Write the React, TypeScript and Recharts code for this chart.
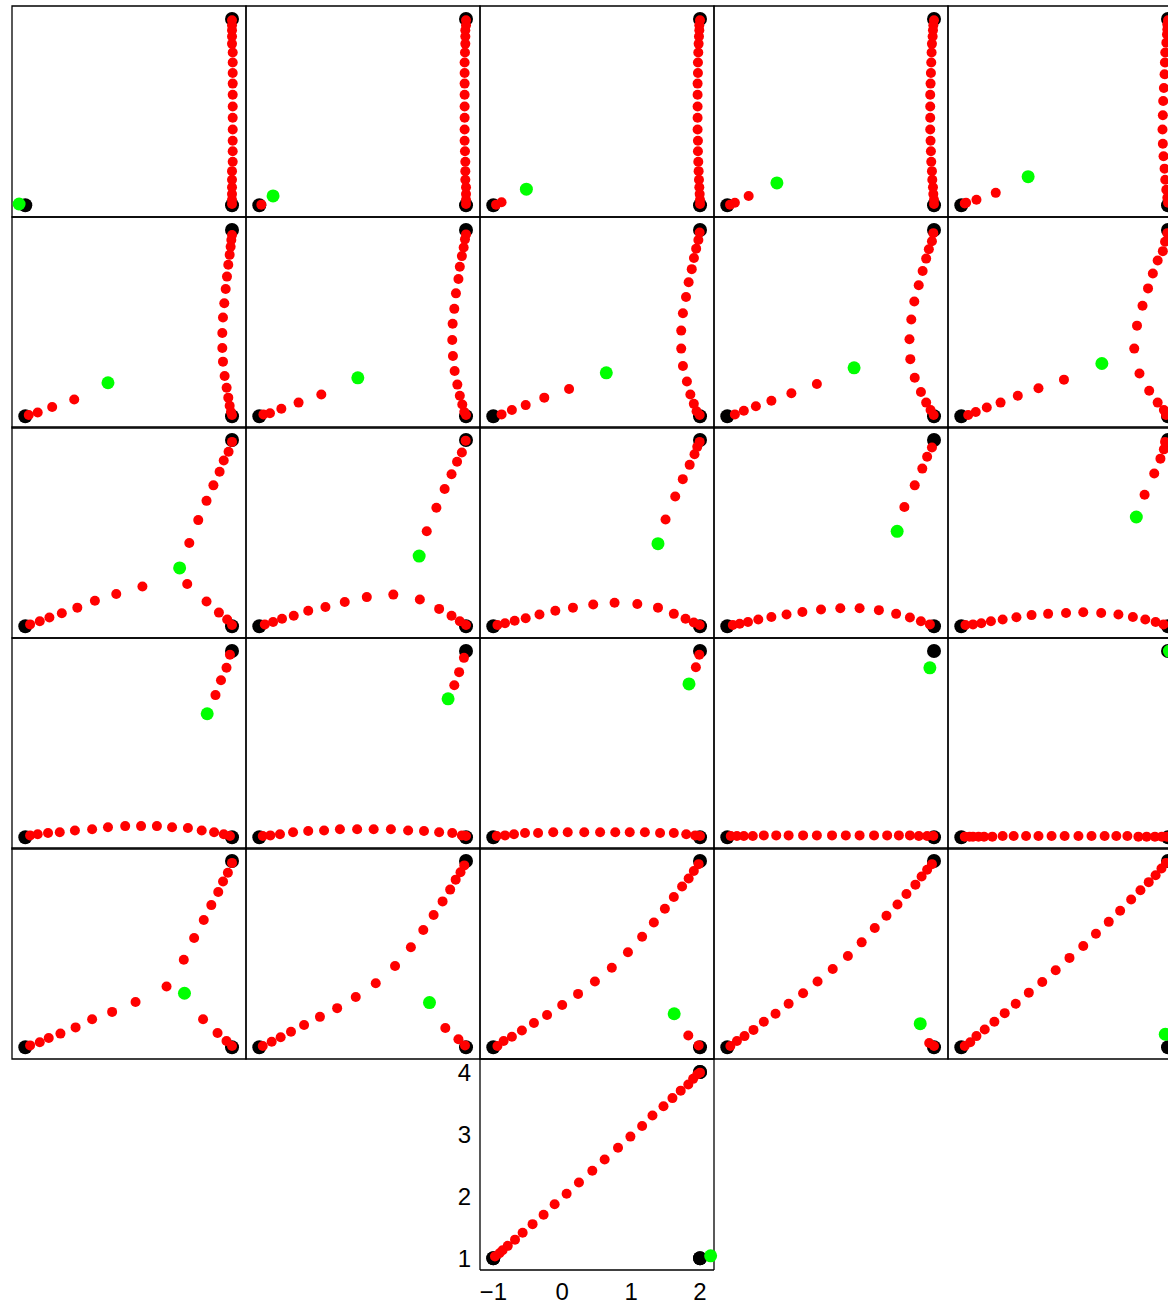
import React from 'react';
import { ScatterChart, Scatter, XAxis, YAxis, ReferenceArea } from 'recharts';

type P = [number, number];

const X_DOMAIN: [number, number] = [-1.193, 2.203];
const Y_DOMAIN: [number, number] = [0.811, 4.21];
const xTicks = [-1, 0, 1, 2];
const yTicks = [1, 2, 3, 4];

// fixed end points drawn in every panel
const endpoints: P[] = [[-1, 1], [2, 1], [2, 4]];

// ---- row 0 ----
const p00Red: P[] = [
  [2.0, 3.98], [2.0, 3.9], [2.0, 3.82], [2.0, 3.72], [2.0, 3.6], [2.01, 3.46], [2.01, 3.3], [2.01, 3.13],
  [2.01, 2.96], [2.01, 2.78], [2.01, 2.59], [2.01, 2.41], [2.01, 2.22], [2.01, 2.04], [2.01, 1.87],
  [2.01, 1.7], [2.0, 1.55], [2.0, 1.41], [2.0, 1.29], [2.0, 1.18], [2.0, 1.09], [2.0, 1.02],
];
const p00Green: P = [-1.09, 1.02];

const p10Red: P[] = [
  [-0.97, 1.01],
  [2.0, 3.98], [2.0, 3.9], [1.99, 3.82], [1.99, 3.72], [1.99, 3.6], [1.985, 3.46], [1.98, 3.3], [1.98, 3.13],
  [1.98, 2.96], [1.98, 2.78], [1.98, 2.59], [1.98, 2.41], [1.98, 2.22], [1.98, 2.04], [1.985, 1.87],
  [1.99, 1.7], [1.99, 1.55], [1.99, 1.41], [2.0, 1.29], [2.0, 1.18], [2.0, 1.09], [2.0, 1.02],
];
const p10Green: P = [-0.8, 1.15];

const p20Red: P[] = [
  [-0.96, 1.01], [-0.88, 1.05],
  [2.0, 3.98], [1.99, 3.9], [1.99, 3.82], [1.985, 3.72], [1.98, 3.6], [1.975, 3.46], [1.97, 3.3], [1.97, 3.13],
  [1.965, 2.96], [1.965, 2.78], [1.965, 2.59], [1.965, 2.41], [1.965, 2.22], [1.97, 2.04], [1.97, 1.87],
  [1.975, 1.7], [1.98, 1.55], [1.985, 1.41], [1.99, 1.29], [1.995, 1.18], [2.0, 1.09], [2.0, 1.02],
];
const p20Green: P = [-0.52, 1.26];

const p30Red: P[] = [
  [-0.96, 1.01], [-0.89, 1.04], [-0.69, 1.15],
  [2.0, 3.98], [1.99, 3.9], [1.985, 3.82], [1.98, 3.72], [1.97, 3.6], [1.965, 3.46], [1.96, 3.3], [1.955, 3.13],
  [1.95, 2.96], [1.945, 2.78], [1.945, 2.59], [1.945, 2.41], [1.945, 2.22], [1.95, 2.04], [1.955, 1.87],
  [1.96, 1.7], [1.97, 1.55], [1.975, 1.41], [1.985, 1.29], [1.99, 1.18], [2.0, 1.09], [2.0, 1.02],
];
const p30Green: P = [-0.28, 1.36];

const p40Red: P[] = [
  [-0.95, 1.03], [-0.93, 1.04], [-0.78, 1.09], [-0.5, 1.2],
  [2.0, 3.98], [1.99, 3.91], [1.99, 3.83], [1.985, 3.75], [1.976, 3.62], [1.96, 3.46], [1.955, 3.3],
  [1.95, 3.11], [1.94, 2.89], [1.93, 2.68], [1.925, 2.45], [1.92, 2.22], [1.925, 1.99], [1.935, 1.79],
  [1.95, 1.59], [1.96, 1.41], [1.975, 1.25], [1.99, 1.12], [2.0, 1.04],
];
const p40Green: P = [-0.03, 1.46];

// ---- row 1 ----
const p01Red: P[] = [
  [-0.95, 1.02], [-0.82, 1.06], [-0.61, 1.15], [-0.29, 1.27],
  [2.0, 3.92], [1.99, 3.84], [1.98, 3.73], [1.966, 3.6], [1.946, 3.44], [1.927, 3.25], [1.908, 3.05],
  [1.888, 2.82], [1.869, 2.59], [1.859, 2.34], [1.859, 2.1], [1.869, 1.88], [1.893, 1.65], [1.922, 1.46],
  [1.946, 1.3], [1.966, 1.17], [1.985, 1.07], [2.0, 1.02],
];
const p01Green: P = [0.2, 1.54];

const p11Red: P[] = [
  [-0.94, 1.03], [-0.845, 1.05], [-0.68, 1.12], [-0.43, 1.22], [-0.1, 1.35],
  [2.0, 3.93], [1.985, 3.85], [1.966, 3.72], [1.94, 3.58], [1.91, 3.41], [1.89, 3.21], [1.854, 2.98],
  [1.83, 2.73], [1.806, 2.49], [1.8, 2.23], [1.81, 1.97], [1.835, 1.73], [1.874, 1.51], [1.91, 1.33],
  [1.946, 1.19], [1.975, 1.07], [2.0, 1.02],
];
const p11Green: P = [0.43, 1.62];

const p21Red: P[] = [
  [-0.88, 1.03], [-0.73, 1.1], [-0.53, 1.18], [-0.26, 1.3], [0.1, 1.44],
  [1.995, 3.96], [1.976, 3.84], [1.944, 3.7], [1.912, 3.55], [1.88, 3.37], [1.835, 3.16], [1.797, 2.92],
  [1.752, 2.66], [1.727, 2.38], [1.727, 2.09], [1.752, 1.81], [1.81, 1.56], [1.86, 1.35], [1.91, 1.2],
  [1.95, 1.08], [1.995, 1.02],
];
const p21Green: P = [0.64, 1.7];

const p31Red: P[] = [
  [-0.89, 1.03], [-0.76, 1.09], [-0.585, 1.16], [-0.36, 1.25], [-0.07, 1.37], [0.3, 1.52],
  [1.99, 3.95], [1.97, 3.82], [1.925, 3.69], [1.886, 3.54], [1.835, 3.34], [1.778, 3.11], [1.714, 2.85],
  [1.67, 2.56], [1.644, 2.24], [1.656, 1.92], [1.72, 1.62], [1.81, 1.39], [1.886, 1.22], [1.95, 1.1],
  [1.995, 1.02],
];
const p31Green: P = [0.84, 1.78];

const p41Red: P[] = [
  [-0.9, 1.02], [-0.79, 1.07], [-0.63, 1.14], [-0.43, 1.22], [-0.18, 1.33], [0.12, 1.45], [0.49, 1.59],
  [1.99, 3.95], [1.957, 3.81], [1.925, 3.66], [1.85, 3.51], [1.78, 3.3], [1.71, 3.06], [1.63, 2.78],
  [1.55, 2.46], [1.51, 2.09], [1.586, 1.69], [1.727, 1.41], [1.85, 1.22], [1.94, 1.1], [1.97, 1.02],
];
const p41Green: P = [1.04, 1.85];

// ---- row 2 ----
const p02Red: P[] = [
  [-0.93, 1.03], [-0.79, 1.08], [-0.65, 1.14], [-0.47, 1.21], [-0.245, 1.3], [0.01, 1.41], [0.32, 1.52], [0.7, 1.64],
  [2.0, 3.97], [1.95, 3.81], [1.88, 3.67], [1.82, 3.49], [1.73, 3.27], [1.63, 3.02], [1.51, 2.71], [1.38, 2.34],
  [1.35, 1.68], [1.63, 1.4], [1.81, 1.22], [1.93, 1.11], [2.0, 1.02],
];
const p02Green: P = [1.24, 1.94];

const p12Red: P[] = [
  [-0.92, 1.03], [-0.8, 1.07], [-0.67, 1.12], [-0.5, 1.17], [-0.29, 1.25], [-0.04, 1.31], [0.24, 1.39],
  [0.56, 1.47], [0.945, 1.51],
  [1.33, 1.43], [1.61, 1.28], [1.79, 1.17], [1.91, 1.08], [2.0, 1.02],
  [1.995, 3.99], [1.94, 3.8], [1.87, 3.65], [1.79, 3.45], [1.69, 3.21], [1.57, 2.91], [1.43, 2.53],
];
const p12Green: P = [1.32, 2.13];

const p22Red: P[] = [
  [-0.94, 1.02], [-0.83, 1.05], [-0.69, 1.09], [-0.53, 1.13], [-0.33, 1.19], [-0.1, 1.25], [0.156, 1.3],
  [0.45, 1.35], [0.76, 1.38], [1.09, 1.36], [1.39, 1.3], [1.62, 1.2], [1.79, 1.12], [1.91, 1.06], [1.995, 1.02],
  [1.995, 3.97], [1.96, 3.89], [1.92, 3.77], [1.85, 3.6], [1.75, 3.37], [1.64, 3.09], [1.5, 2.72],
];
const p22Green: P = [1.39, 2.33];

const p32Red: P[] = [
  [-0.92, 1.02], [-0.82, 1.04], [-0.7, 1.07], [-0.55, 1.11], [-0.36, 1.15], [-0.14, 1.19], [0.09, 1.23],
  [0.36, 1.27], [0.64, 1.29], [0.92, 1.29], [1.2, 1.26], [1.45, 1.2], [1.65, 1.14], [1.81, 1.08], [1.94, 1.03],
  [1.97, 3.88], [1.9, 3.73], [1.83, 3.54], [1.72, 3.27], [1.57, 2.92],
];
const p32Green: P = [1.465, 2.53];

const p42Red: P[] = [
  [-0.94, 1.02], [-0.83, 1.03], [-0.71, 1.05], [-0.57, 1.08], [-0.4, 1.11], [-0.2, 1.145], [0.02, 1.18],
  [0.26, 1.2], [0.52, 1.215], [0.77, 1.225], [1.03, 1.215], [1.28, 1.19], [1.49, 1.15], [1.67, 1.11],
  [1.82, 1.07], [1.935, 1.03],
  [1.957, 3.97], [1.94, 3.85], [1.89, 3.7], [1.8, 3.46], [1.66, 3.12],
];
const p42Green: P = [1.54, 2.76];

// ---- row 3 ----
const p03Red: P[] = [
  [-0.93, 1.03], [-0.82, 1.05], [-0.67, 1.07], [-0.5, 1.08], [-0.28, 1.11], [-0.03, 1.13], [0.2, 1.16],
  [0.45, 1.18], [0.68, 1.18], [0.91, 1.18], [1.13, 1.16], [1.36, 1.15], [1.56, 1.11], [1.74, 1.08],
  [1.88, 1.05], [1.97, 1.02],
  [1.97, 3.94], [1.92, 3.73], [1.84, 3.53], [1.76, 3.29],
];
const p03Green: P = [1.64, 2.99];

const p13Red: P[] = [
  [-0.95, 1.02], [-0.84, 1.03], [-0.7, 1.05], [-0.51, 1.08], [-0.29, 1.1], [-0.06, 1.11], [0.17, 1.13],
  [0.42, 1.13], [0.66, 1.13], [0.91, 1.13], [1.16, 1.11], [1.39, 1.1], [1.61, 1.08], [1.8, 1.07],
  [1.94, 1.03], [2.0, 1.02],
  [1.97, 3.89], [1.9, 3.66], [1.83, 3.45],
];
const p13Green: P = [1.74, 3.23];

const p23Red: P[] = [
  [-0.95, 1.02], [-0.83, 1.03], [-0.7, 1.05], [-0.54, 1.07], [-0.35, 1.07], [-0.13, 1.08], [0.08, 1.08],
  [0.32, 1.08], [0.55, 1.08], [0.77, 1.08], [0.98, 1.08], [1.2, 1.08], [1.42, 1.07], [1.62, 1.07],
  [1.8, 1.05], [1.93, 1.03], [2.0, 1.02],
  [1.99, 3.94], [1.94, 3.74],
];
const p23Green: P = [1.84, 3.47];

const p33Red: P[] = [
  [-0.95, 1.02], [-0.86, 1.02], [-0.76, 1.02], [-0.63, 1.02], [-0.47, 1.03], [-0.29, 1.03], [-0.11, 1.03],
  [0.1, 1.03], [0.3, 1.03], [0.52, 1.03], [0.72, 1.03], [0.92, 1.03], [1.13, 1.03], [1.32, 1.03],
  [1.49, 1.03], [1.65, 1.03], [1.78, 1.02], [1.9, 1.02], [1.99, 1.02],
];
const p33Green: P = [1.94, 3.73];

const p43Red: P[] = [
  [-0.95, 1.01], [-0.88, 1.01], [-0.83, 1.01], [-0.75, 1.01], [-0.67, 1.01], [-0.55, 1.01], [-0.4, 1.02],
  [-0.24, 1.02], [-0.06, 1.02], [0.12, 1.02], [0.31, 1.02], [0.5, 1.02], [0.7, 1.02], [0.89, 1.02],
  [1.08, 1.02], [1.25, 1.02], [1.41, 1.02], [1.57, 1.01], [1.69, 1.01], [1.81, 1.01], [1.91, 1.01], [1.98, 1.01],
];
const p43Green: P = [2.02, 4.0];

// ---- row 4 ----
const p04Red: P[] = [
  [-0.93, 1.03], [-0.79, 1.08], [-0.66, 1.15], [-0.49, 1.22], [-0.27, 1.32], [-0.03, 1.45], [0.26, 1.57],
  [0.6, 1.73], [1.05, 1.98],
  [2.0, 3.97], [1.94, 3.81], [1.87, 3.67], [1.8, 3.5], [1.7, 3.29], [1.59, 3.05], [1.45, 2.76], [1.3, 2.41],
  [1.58, 1.45], [1.79, 1.23], [1.92, 1.1], [2.0, 1.02],
];
const p04Green: P = [1.31, 1.87];

const p14Red: P[] = [
  [-0.95, 1.02], [-0.82, 1.09], [-0.69, 1.16], [-0.54, 1.25], [-0.35, 1.36], [-0.12, 1.49], [0.13, 1.63],
  [0.4, 1.81], [0.69, 2.03], [0.97, 2.31], [1.2, 2.61], [1.38, 2.89], [1.53, 3.13], [1.66, 3.35],
  [1.77, 3.54], [1.85, 3.7], [1.92, 3.82], [1.975, 3.93],
  [1.7, 1.31], [1.89, 1.13], [1.985, 1.03],
];
const p14Green: P = [1.47, 1.72];

const p24Red: P[] = [
  [-0.94, 1.02], [-0.85, 1.1], [-0.73, 1.17], [-0.585, 1.27], [-0.41, 1.39], [-0.22, 1.52], [0.0, 1.68],
  [0.23, 1.86], [0.475, 2.06], [0.72, 2.28], [0.954, 2.53], [1.16, 2.78], [1.33, 3.01], [1.49, 3.23],
  [1.62, 3.42], [1.74, 3.59], [1.835, 3.72], [1.91, 3.84], [1.98, 3.95],
  [1.83, 1.19], [1.98, 1.03],
];
const p24Green: P = [1.625, 1.54];

const p34Red: P[] = [
  [-0.955, 1.02], [-0.86, 1.1], [-0.75, 1.18], [-0.62, 1.28], [-0.47, 1.41], [-0.3, 1.54], [-0.11, 1.7],
  [0.1, 1.87], [0.31, 2.06], [0.53, 2.26], [0.75, 2.47], [0.95, 2.69], [1.14, 2.92], [1.31, 3.12],
  [1.47, 3.3], [1.6, 3.47], [1.73, 3.62], [1.82, 3.75], [1.9, 3.86], [1.97, 3.95],
  [1.93, 1.07], [2.0, 1.02],
];
const p34Green: P = [1.8, 1.38];

const p44Red: P[] = [
  [-0.95, 1.02], [-0.87, 1.08], [-0.78, 1.18], [-0.66, 1.285], [-0.52, 1.41], [-0.37, 1.55], [-0.21, 1.7],
  [-0.02, 1.88], [0.175, 2.05], [0.37, 2.24], [0.57, 2.44], [0.77, 2.63], [0.954, 2.83], [1.14, 3.02],
  [1.305, 3.2], [1.465, 3.38], [1.6, 3.53], [1.72, 3.66], [1.82, 3.77], [1.905, 3.88], [1.97, 3.97],
];
const p44Green: P = [1.96, 1.21];

// ---- bottom panel (with axes) ----
const p25Red: P[] = [
  [-0.976, 1.03], [-0.91, 1.08], [-0.865, 1.13], [-0.79, 1.2], [-0.685, 1.3], [-0.574, 1.41], [-0.43, 1.55],
  [-0.27, 1.7], [-0.11, 1.87], [0.064, 2.04], [0.243, 2.22], [0.437, 2.41], [0.616, 2.59], [0.81, 2.78],
  [0.99, 2.96], [1.16, 3.13], [1.31, 3.3], [1.47, 3.45], [1.6, 3.58], [1.72, 3.7], [1.83, 3.8],
  [1.9, 3.89], [1.96, 3.96], [2.0, 3.99],
];
const p25Green: P = [2.154, 1.04];

const panels = [
  { col: 0, row: 0, red: p00Red, green: p00Green },
  { col: 1, row: 0, red: p10Red, green: p10Green },
  { col: 2, row: 0, red: p20Red, green: p20Green },
  { col: 3, row: 0, red: p30Red, green: p30Green },
  { col: 4, row: 0, red: p40Red, green: p40Green },
  { col: 0, row: 1, red: p01Red, green: p01Green },
  { col: 1, row: 1, red: p11Red, green: p11Green },
  { col: 2, row: 1, red: p21Red, green: p21Green },
  { col: 3, row: 1, red: p31Red, green: p31Green },
  { col: 4, row: 1, red: p41Red, green: p41Green },
  { col: 0, row: 2, red: p02Red, green: p02Green },
  { col: 1, row: 2, red: p12Red, green: p12Green },
  { col: 2, row: 2, red: p22Red, green: p22Green },
  { col: 3, row: 2, red: p32Red, green: p32Green },
  { col: 4, row: 2, red: p42Red, green: p42Green },
  { col: 0, row: 3, red: p03Red, green: p03Green },
  { col: 1, row: 3, red: p13Red, green: p13Green },
  { col: 2, row: 3, red: p23Red, green: p23Green },
  { col: 3, row: 3, red: p33Red, green: p33Green },
  { col: 4, row: 3, red: p43Red, green: p43Green },
  { col: 0, row: 4, red: p04Red, green: p04Green },
  { col: 1, row: 4, red: p14Red, green: p14Green },
  { col: 2, row: 4, red: p24Red, green: p24Green },
  { col: 3, row: 4, red: p34Red, green: p34Green },
  { col: 4, row: 4, red: p44Red, green: p44Green },
];

// layout
const COL_LEFT = [12, 246, 480, 714, 948];
const ROW_TOP = [6, 216.6, 427.2, 637.8, 848.4, 1059];
const PW = 234;
const PH = 211;
const FONT = '"Liberation Sans", Arial, Helvetica, sans-serif';
const R_BLACK = 7;
const R_RED = 5;
const R_GREEN = 6.5;

const toPts = (a: P[]) => a.map(([x, y]) => ({ x, y }));
const dot = (r: number, fill: string) => (props: any) =>
  <circle cx={props.cx} cy={props.cy} r={r} fill={fill} />;
const fmt = (v: number) => (v < 0 ? '\u2212' + Math.abs(v) : String(v));

function Panel({ col, row, red, green }: { col: number; row: number; red: P[]; green: P }) {
  return (
    <div style={{ position: 'absolute', left: COL_LEFT[col] - 1, top: ROW_TOP[row] - 1 }}>
      <ScatterChart width={PW + 2} height={PH + 2} margin={{ top: 1, right: 1, bottom: 1, left: 1 }}>
        <XAxis type="number" dataKey="x" domain={X_DOMAIN} hide />
        <YAxis type="number" dataKey="y" domain={Y_DOMAIN} hide />
        <ReferenceArea x1={X_DOMAIN[0]} x2={X_DOMAIN[1]} y1={Y_DOMAIN[0]} y2={Y_DOMAIN[1]}
          fill="none" fillOpacity={0} stroke="#000" strokeWidth={1.3} />
        <Scatter data={toPts(endpoints)} shape={dot(R_BLACK, '#000')} isAnimationActive={false} />
        <Scatter data={toPts(red)} shape={dot(R_RED, '#ff0000')} isAnimationActive={false} />
        <Scatter data={toPts([green])} shape={dot(R_GREEN, '#00ff00')} isAnimationActive={false} />
      </ScatterChart>
    </div>
  );
}

function AxisPanel() {
  const tickStyle = { fill: '#000', fontSize: 24, fontFamily: FONT };
  const line = { stroke: '#000', strokeWidth: 1.3 };
  return (
    <div style={{ position: 'absolute', left: COL_LEFT[2] - 40, top: ROW_TOP[5] - 1 }}>
      <ScatterChart width={40 + PW + 10} height={1 + PH + 40} margin={{ top: 1, right: 10, bottom: 0, left: 0 }}>
        {/* labels only */}
        <XAxis xAxisId="b" type="number" dataKey="x" domain={X_DOMAIN} ticks={xTicks} interval={0}
          tickLine={false} axisLine={false} tickSize={0} tickMargin={13} height={40}
          tickFormatter={fmt} tick={tickStyle} />
        <YAxis yAxisId="l" type="number" dataKey="y" domain={Y_DOMAIN} ticks={yTicks} interval={0}
          tickLine={false} axisLine={false} tickSize={0} tickMargin={9} width={40} tick={tickStyle} />
        {/* frame with inward ticks */}
        <XAxis xAxisId="bm" mirror type="number" dataKey="x" domain={X_DOMAIN} ticks={xTicks} interval={0}
          tick={false} tickSize={5} height={1} axisLine={line} tickLine={line} />
        <XAxis xAxisId="t" orientation="top" mirror type="number" dataKey="x" domain={X_DOMAIN} ticks={xTicks}
          interval={0} tick={false} tickSize={5} height={1} axisLine={line} tickLine={line} />
        <YAxis yAxisId="lm" mirror type="number" dataKey="y" domain={Y_DOMAIN} ticks={yTicks} interval={0}
          tick={false} tickSize={5} width={1} axisLine={line} tickLine={line} />
        <YAxis yAxisId="r" orientation="right" mirror type="number" dataKey="y" domain={Y_DOMAIN} ticks={yTicks}
          interval={0} tick={false} tickSize={5} width={1} axisLine={line} tickLine={line} />
        <Scatter xAxisId="t" yAxisId="r" data={toPts(endpoints)} shape={dot(R_BLACK, '#000')} isAnimationActive={false} />
        <Scatter xAxisId="bm" yAxisId="lm" data={toPts(endpoints)} shape={dot(R_BLACK, '#000')} isAnimationActive={false} />
        <Scatter xAxisId="b" yAxisId="l" data={toPts(p25Red)} shape={dot(R_RED, '#ff0000')} isAnimationActive={false} />
        <Scatter xAxisId="b" yAxisId="l" data={toPts([p25Green])} shape={dot(R_GREEN, '#00ff00')} isAnimationActive={false} />
      </ScatterChart>
    </div>
  );
}

export default function App() {
  return (
    <div style={{ position: 'absolute', left: 0, top: 0, width: 1168, height: 1306, overflow: 'hidden', background: '#fff' }}>
      {panels.map((p) => (
        <Panel key={`${p.col}-${p.row}`} {...p} />
      ))}
      <AxisPanel />
    </div>
  );
}
